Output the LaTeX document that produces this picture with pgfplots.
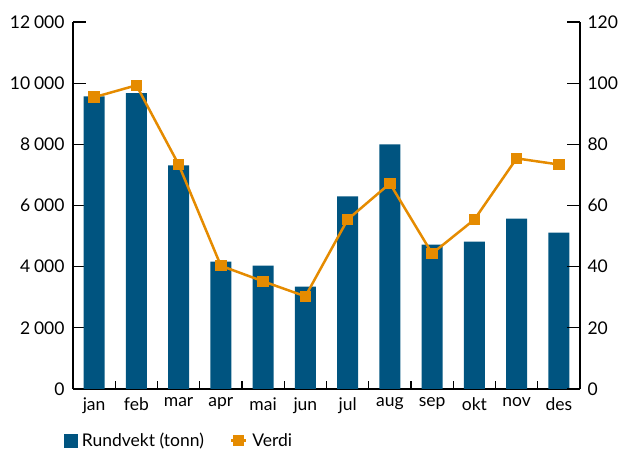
\documentclass[border=0pt]{standalone}
\usepackage{fontspec}
\setmainfont{Lato}
\usepackage{pgfplots}
\pgfplotsset{compat=1.18}
\definecolor{barblue}{RGB}{0,84,128}
\definecolor{lineorange}{RGB}{229,139,0}
\newcommand{\chartfont}{\fontsize{17.5bp}{20bp}\selectfont}
\begin{document}
\begin{tikzpicture}[font=\chartfont]
\path[use as bounding box] (0,0) rectangle (621bp,450bp);
\begin{axis}[
  at={(73bp,61bp)}, anchor=south west,
  scale only axis, width=507bp, height=367bp,
  xmin=-0.5, xmax=11.5, ymin=0, ymax=12000,
  axis x line*=bottom, axis y line*=left,
  axis line style={-, line width=1.3bp, black},
  xtick={0,...,11},
  xticklabels={jan,feb,mar,apr,mai,jun,jul,aug,sep,okt,nov,des},
  minor xtick={0.5,1.5,...,10.5},
  major x tick style={draw=none},
  minor x tick style={line width=1.3bp, black},
  minor tick length=8bp,
  ytick={0,2000,...,12000},
  major tick length=13bp,
  tick align=inside,
  y tick style={line width=1.3bp, black},
  tick label style={font=\chartfont},
  xticklabel style={yshift=-5bp},
  yticklabel style={xshift=-5bp},
  scaled y ticks=false,
  /pgf/number format/.cd, 1000 sep={\hspace{0.22em}}, assume math mode=true,
]
\addplot[ybar, bar width=21bp, fill=barblue, draw=none] coordinates {
(0,9564) (1,9672) (2,7311) (3,4164) (4,4033) (5,3344)
(6,6295) (7,8000) (8,4721) (9,4820) (10,5574) (11,5115)};
\end{axis}
\begin{axis}[
  at={(73bp,61bp)}, anchor=south west,
  scale only axis, width=507bp, height=367bp,
  xmin=-0.5, xmax=11.5, ymin=0, ymax=120,
  axis x line=none, axis y line*=right,
  axis line style={-, line width=1.3bp, black},
  xtick=\empty,
  ytick={0,20,...,120},
  major tick length=13bp,
  tick align=inside,
  y tick style={line width=1.3bp, black},
  tick label style={font=\chartfont},
  yticklabel style={xshift=4bp},
  legend columns=2,
  legend style={at={(-0.025,-0.14)}, anchor=west, draw=none, fill=none,
    font=\chartfont,
    /tikz/every odd column/.append style={column sep=3bp},
    /tikz/every even column/.append style={column sep=24bp}},
  /pgf/number format/.cd, assume math mode=true,
]
\addlegendimage{legend image code/.code={\fill[barblue] (0bp,-6.5bp) rectangle (13bp,6.5bp);}}
\addlegendentry{Rundvekt (tonn)}
\addplot[lineorange, line width=2.5bp, mark=square*, mark size=4.5bp,
  mark options={solid},
  legend image code/.code={\draw[lineorange, line width=2.5bp] (0bp,0bp) -- (15bp,0bp); \fill[lineorange] (3.5bp,-4bp) rectangle (11.5bp,4bp);}]
coordinates {
(0,95.4) (1,99.3) (2,73.4) (3,40.3) (4,35.2) (5,30.3)
(6,55.4) (7,67.2) (8,44.3) (9,55.4) (10,75.4) (11,73.4)};
\addlegendentry{Verdi}
\end{axis}
\end{tikzpicture}
\end{document}
